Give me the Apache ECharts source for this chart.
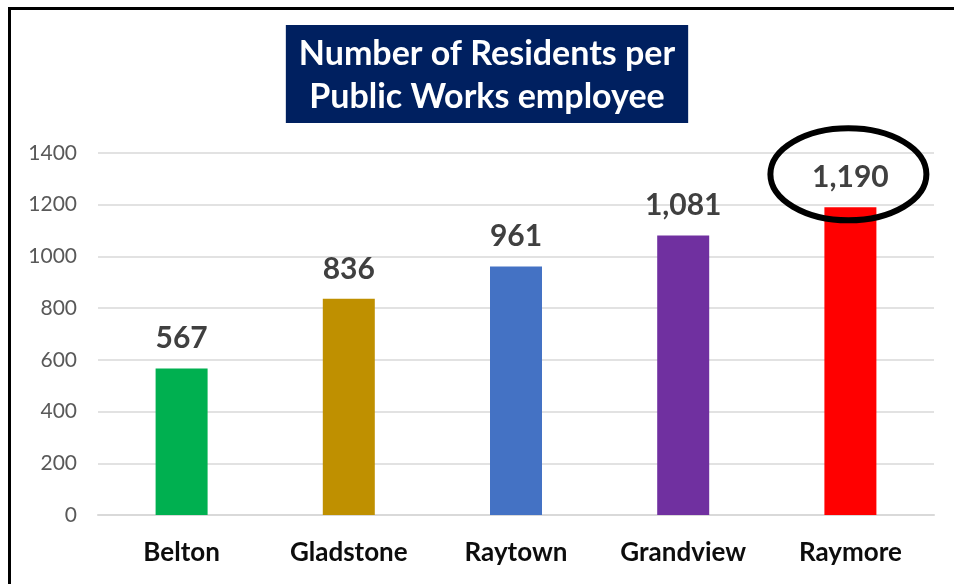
<!DOCTYPE html>
<html>
<head>
<meta charset="utf-8">
<script src="https://cdn.jsdelivr.net/npm/echarts@6/dist/echarts.min.js"></script>
<style>
  html, body { margin: 0; padding: 0; background: #fff; }
  #chart { width: 954px; height: 584px; }
</style>
</head>
<body>
<div id="chart"></div>
<script>
// Residents served per Public Works employee, by city
const cities = ['Belton', 'Gladstone', 'Raytown', 'Grandview', 'Raymore'];
const residentsPerEmployee = [567, 836, 961, 1081, 1190];
const barColors = ['#00B050', '#BF9000', '#4472C4', '#7030A0', '#FF0000'];
const yTicks = [0, 200, 400, 600, 800, 1000, 1200, 1400];
const highlightCity = 'Raymore';

const chart = echarts.init(document.getElementById('chart'), null, { renderer: 'canvas' });

const frame = {
  type: 'rect',
  silent: true,
  shape: { x: 9.5, y: 8.5, width: 1200, height: 1200 },
  style: { fill: 'none', stroke: '#000', lineWidth: 3 }
};

const option = {
  backgroundColor: '#fff',
  animation: false,
  title: {
    text: 'Number of Residents per\nPublic Works employee',
    left: 474,
    textAlign: 'center',
    top: 25,
    backgroundColor: '#002060',
    padding: [8, 13, 4, 13],
    textStyle: {
      color: '#fff',
      fontFamily: 'Lato',
      fontWeight: 'bold',
      fontSize: 34,
      lineHeight: 43
    }
  },
  grid: { left: 98, right: 20, top: 153, bottom: 69, containLabel: false },
  xAxis: {
    type: 'category',
    data: cities,
    axisTick: { show: false },
    axisLine: { lineStyle: { color: '#D9D9D9', width: 2 } },
    axisLabel: {
      margin: 25,
      color: '#0D0D0D',
      fontFamily: 'Lato',
      fontWeight: 'bold',
      fontSize: 26
    }
  },
  yAxis: {
    type: 'value',
    min: yTicks[0],
    max: yTicks[yTicks.length - 1],
    interval: yTicks[1] - yTicks[0],
    axisLine: { show: false },
    axisTick: { show: false },
    splitLine: { lineStyle: { color: '#D9D9D9', width: 1.5 } },
    axisLabel: {
      margin: 21,
      color: '#595959',
      fontFamily: 'Lato',
      fontSize: 21,
      formatter: v => String(v)
    }
  },
  series: [{
    type: 'bar',
    barWidth: 52,
    data: residentsPerEmployee.map((v, i) => ({ value: v, itemStyle: { color: barColors[i] } })),
    label: {
      show: true,
      position: 'top',
      distance: 15,
      color: '#404040',
      fontFamily: 'Lato',
      fontWeight: 'bold',
      fontSize: 30,
      formatter: p => p.value.toLocaleString('en-US')
    }
  }],
  graphic: [frame]
};

chart.setOption(option);

// Circle the highlighted city's value label
const hiIndex = cities.indexOf(highlightCity);
const barTop = chart.convertToPixel({ seriesIndex: 0 }, [highlightCity, residentsPerEmployee[hiIndex]]);
chart.setOption({
  graphic: [frame, {
    type: 'ellipse',
    silent: true,
    z: 100,
    shape: { cx: barTop[0] - 2, cy: barTop[1] - 33, rx: 78, ry: 46 },
    style: { fill: 'none', stroke: '#000', lineWidth: 6 }
  }]
});
</script>
</body>
</html>
